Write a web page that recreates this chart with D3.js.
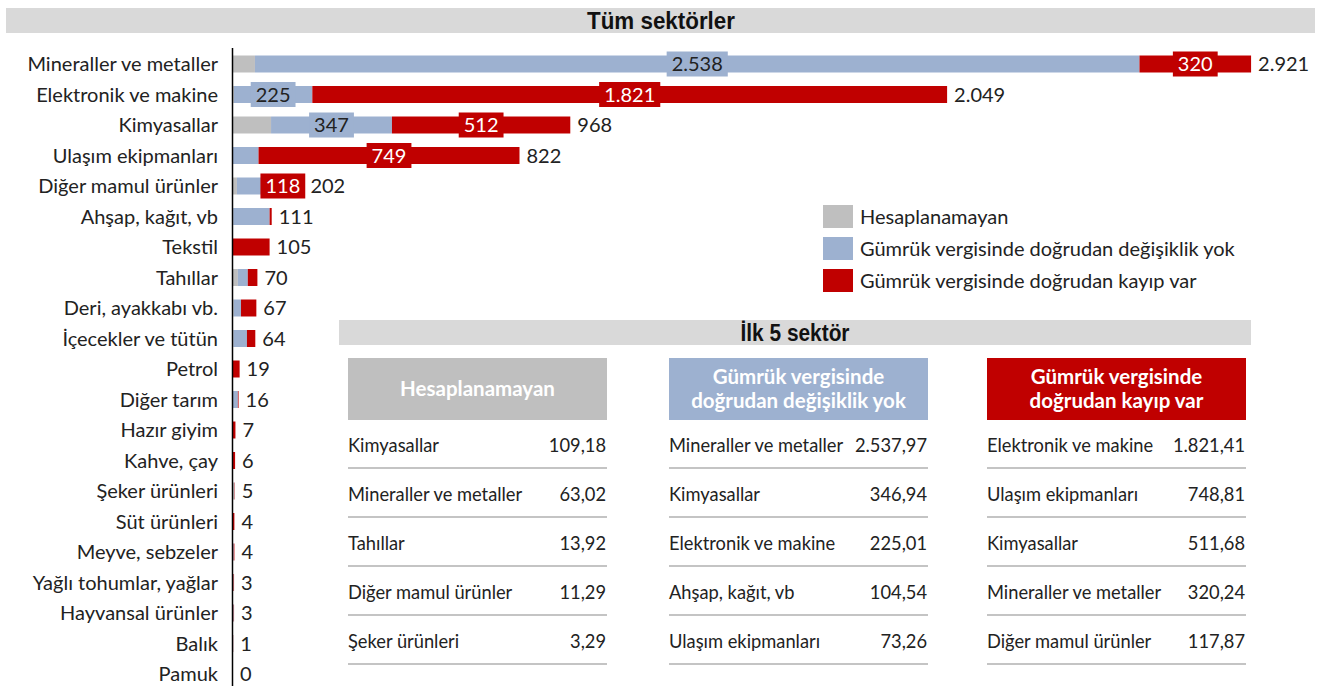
<!DOCTYPE html>
<html>
<head>
<meta charset="utf-8">
<script src="https://cdn.jsdelivr.net/npm/d3@7"></script>
<style>
  body { margin: 0; background: #fff; }
  svg { display: block; font-family: Lato, "Open Sans", sans-serif; }
</style>
</head>
<body>
<svg width="1323" height="686"></svg>
<script>

var sectors = ["Mineraller ve metaller", "Elektronik ve makine", "Kimyasallar", "Ulaşım ekipmanları",
  "Diğer mamul ürünler", "Ahşap, kağıt, vb", "Tekstil", "Tahıllar", "Deri, ayakkabı vb.",
  "İçecekler ve tütün", "Petrol", "Diğer tarım", "Hazır giyim", "Kahve, çay", "Şeker ürünleri",
  "Süt ürünleri", "Meyve, sebzeler", "Yağlı tohumlar, yağlar", "Hayvansal ürünler", "Balık", "Pamuk"];

// three parts of each bar
var hesaplanamayan = [63.02, 2.6, 109.18, 0, 11.29, 0.5, 0, 13.92, 2, 1, 0, 0, 0, 0, 3.29, 0, 0, 0, 0, 0, 0];
var degisiklikYok  = [2537.97, 225.01, 346.94, 73.26, 72.8, 104.54, 0, 28.5, 21, 39, 0, 14, 0, 0, 0.7, 0, 2, 1.5, 2, 0.6, 0];
var kayipVar       = [320.24, 1821.41, 511.68, 748.81, 117.87, 6, 105, 27.6, 44, 24, 19, 2, 7, 6, 1, 4, 2, 1.5, 1, 0.4, 0];

var seriesNames = ["Hesaplanamayan", "Gümrük vergisinde doğrudan değişiklik yok", "Gümrük vergisinde doğrudan kayıp var"];
var colors = ["#bfbfbf", "#9db1d0", "#c00000"];

// "İlk 5 sektör" tables
var top5Names = [
  ["Kimyasallar", "Mineraller ve metaller", "Tahıllar", "Diğer mamul ürünler", "Şeker ürünleri"],
  ["Mineraller ve metaller", "Kimyasallar", "Elektronik ve makine", "Ahşap, kağıt, vb", "Ulaşım ekipmanları"],
  ["Elektronik ve makine", "Ulaşım ekipmanları", "Kimyasallar", "Mineraller ve metaller", "Diğer mamul ürünler"]
];
var top5Values = [
  [109.18, 63.02, 13.92, 11.29, 3.29],
  [2537.97, 346.94, 225.01, 104.54, 73.26],
  [1821.41, 748.81, 511.68, 320.24, 117.87]
];
var tableHeaders = [["Hesaplanamayan"], ["Gümrük vergisinde", "doğrudan değişiklik yok"], ["Gümrük vergisinde", "doğrudan kayıp var"]];

var tr = d3.formatLocale({decimal: ",", thousands: ".", grouping: [3], currency: ["", ""]});
var fmt0 = tr.format(",.0f"),
    fmt2 = tr.format(",.2f");

var svg = d3.select("svg");

var rows = sectors.map(function(s, i) {
  return {name: s, a: hesaplanamayan[i], b: degisiklikYok[i], c: kayipVar[i]};
});
var keys = ["a", "b", "c"];
var stack = d3.stack().keys(keys)(rows);

var x = d3.scaleLinear().domain([0, 2921]).range([233, 1251]);
var y = d3.scaleBand().domain(sectors).range([48.75, 689.25]).paddingInner(0.443).paddingOuter(0.2215);

// title bar (condensed bold)
svg.append("rect").attr("x", 6).attr("y", 8).attr("width", 1309).attr("height", 25).attr("fill", "#d9d9d9");
svg.append("text").attr("x", 661).attr("y", 28.5).attr("text-anchor", "middle")
  .attr("textLength", 148).attr("lengthAdjust", "spacingAndGlyphs")
  .style("font-family", "'Liberation Sans', sans-serif")
  .style("font-weight", "bold").style("font-size", "24.5px").attr("fill", "#111")
  .text("Tüm sektörler");

// bars
var layer = svg.append("g").selectAll("g")
  .data(stack).enter().append("g")
  .attr("fill", function(d, i) { return colors[i]; });

layer.selectAll("rect")
  .data(function(d) { return d; })
  .enter().append("rect")
  .attr("x", function(d) { return x(d[0]); })
  .attr("y", function(d) { return y(d.data.name); })
  .attr("width", function(d) { return x(d[1]) - x(d[0]); })
  .attr("height", y.bandwidth());

// value boxes inside the large blue and red parts
stack.forEach(function(s, si) {
  if (si === 0) return;
  s.forEach(function(d) {
    var v = d[1] - d[0];
    if (v < 115) return;
    var cx = (x(d[0]) + x(d[1])) / 2,
        cy = y(d.data.name) + y.bandwidth() / 2;
    var g = svg.append("g");
    var box = g.append("rect").attr("fill", colors[si]);
    var t = g.append("text").attr("x", cx).attr("y", cy).attr("dy", "0.36em")
      .attr("text-anchor", "middle").style("font-size", "20px")
      .attr("fill", si === 2 ? "#fff" : "#222")
      .text(fmt0(v));
    var w = t.node().getComputedTextLength() + 10;
    box.attr("x", cx - w / 2).attr("y", cy - 12.5).attr("width", w).attr("height", 25);
  });
});

// totals
svg.append("g").selectAll("text")
  .data(rows).enter().append("text")
  .attr("x", function(d) { return x(d.a + d.b + d.c) + 7; })
  .attr("y", function(d) { return y(d.name) + y.bandwidth() / 2; })
  .attr("dy", "0.36em").style("font-size", "20px").attr("fill", "#222")
  .text(function(d) { return fmt0(d.a + d.b + d.c); });

// category labels + axis line
svg.append("g").selectAll("text")
  .data(sectors).enter().append("text")
  .attr("x", 218)
  .attr("y", function(d) { return y(d) + y.bandwidth() / 2; })
  .attr("dy", "0.36em").attr("text-anchor", "end").style("font-size", "20px").attr("fill", "#222")
  .text(function(d) { return d; });

svg.append("line").attr("x1", 232.5).attr("x2", 232.5).attr("y1", 48).attr("y2", 686)
  .attr("stroke", "#000").attr("stroke-width", 1.5);

// legend
var legend = svg.append("g").selectAll("g")
  .data(seriesNames).enter().append("g")
  .attr("transform", function(d, i) { return "translate(823," + (205 + i * 32) + ")"; });
legend.append("rect").attr("width", 30).attr("height", 23).attr("fill", function(d, i) { return colors[i]; });
legend.append("text").attr("x", 37).attr("y", 11.5).attr("dy", "0.36em")
  .style("font-size", "20px").attr("fill", "#222").text(function(d) { return d; });

// second title bar
svg.append("rect").attr("x", 339).attr("y", 320).attr("width", 912).attr("height", 25).attr("fill", "#d9d9d9");
svg.append("text").attr("x", 795).attr("y", 340.5).attr("text-anchor", "middle")
  .attr("textLength", 109).attr("lengthAdjust", "spacingAndGlyphs")
  .style("font-family", "'Liberation Sans', sans-serif")
  .style("font-weight", "bold").style("font-size", "23px").attr("fill", "#111")
  .text("İlk 5 sektör");

// tables
var colX = [348, 669, 987], colW = 259;
var rowY = d3.scalePoint().domain(d3.range(5)).range([445, 641]);

colX.forEach(function(cx, ci) {
  var g = svg.append("g");
  g.append("rect").attr("x", cx).attr("y", 358).attr("width", colW).attr("height", 62).attr("fill", colors[ci]);
  var lines = tableHeaders[ci];
  g.selectAll("text.h").data(lines).enter().append("text").attr("class", "h")
    .attr("x", cx + colW / 2)
    .attr("y", function(d, i) { return 389 + (i - (lines.length - 1) / 2) * 24; })
    .attr("dy", "0.36em").attr("text-anchor", "middle")
    .style("font-size", "20.5px").style("font-weight", "bold").attr("fill", "#fff")
    .text(function(d) { return d; });

  top5Names[ci].forEach(function(n, ri) {
    var ry = rowY(ri);
    g.append("text").attr("x", cx).attr("y", ry).attr("dy", "0.36em")
      .style("font-size", "18.3px").attr("fill", "#222").text(n);
    g.append("text").attr("x", cx + colW - 1).attr("y", ry).attr("dy", "0.36em")
      .attr("text-anchor", "end").style("font-size", "18.3px").attr("fill", "#222")
      .text(fmt2(top5Values[ci][ri]));
    g.append("line").attr("x1", cx).attr("x2", cx + colW).attr("y1", ry + 23).attr("y2", ry + 23)
      .attr("stroke", "#c4c4c4").attr("stroke-width", 2);
  });
});

</script>
</body>
</html>
